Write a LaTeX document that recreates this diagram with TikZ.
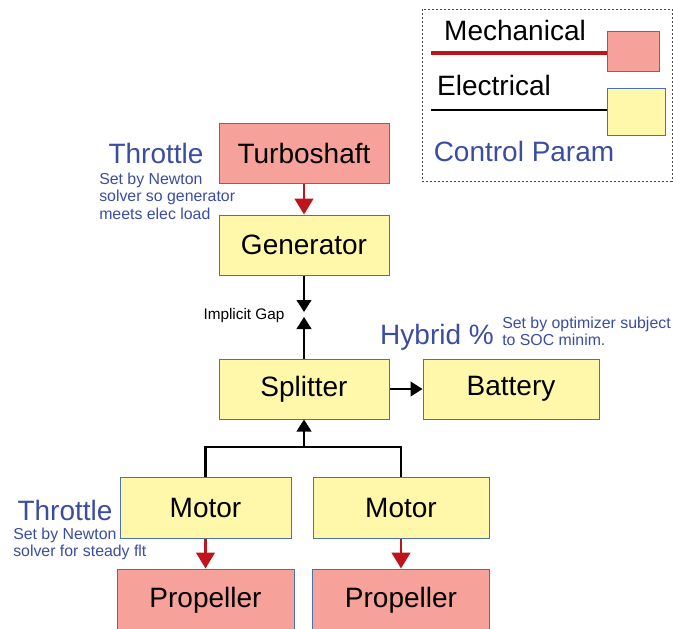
\documentclass[tikz,border=0pt]{standalone}
\usepackage{fontspec}
\setmainfont{Liberation Sans}
\usepackage{xcolor}
\usepackage{tikz}
\usetikzlibrary{arrows.meta,positioning}
\definecolor{pmred}{RGB}{246,161,153}
\definecolor{pmyellow}{RGB}{255,248,170}
\definecolor{pmedge}{RGB}{79,113,170}
\definecolor{pmline}{RGB}{192,20,28}
\definecolor{pmblue}{RGB}{59,76,163}
\newcommand{\pmbig}{\fontsize{21}{25}\selectfont}
\newcommand{\pmsmall}{\fontsize{11.9}{13.2}\selectfont}
\newcommand{\pmgap}{\fontsize{11.5}{12}\selectfont}

\begin{document}
\begin{tikzpicture}[
  x=0.75pt,y=-0.75pt,
  node distance=23.25pt and 24.75pt,
  block/.style={draw=pmedge,line width=0.75pt,minimum width=127.5pt,minimum height=45pt,
     inner sep=0pt,font=\pmbig},
  mech/.style={block,fill=pmred},
  elec/.style={block,fill=pmyellow},
  ctrl/.style={font=\pmbig,text=pmblue,inner sep=0pt},
  note/.style={font=\pmsmall,text=pmblue,align=left,inner sep=0pt},
  mflow/.style={-{Triangle[length=12pt,width=14pt]},line width=1.9pt,color=pmline},
  eflow/.style={-{Triangle[length=9pt,width=11pt]},line width=1.6pt},
  eline/.style={line width=1.6pt},
  legbox/.style={draw=black!70,line width=0.75pt,dash pattern=on 1.5pt off 1.5pt}
]
\useasboundingbox (0,0) rectangle (673,628);
% main chain
\node[mech] (turbo) at (304,153) {Turboshaft};
\node[elec,below=of turbo] (gen) {Generator};
\node[elec,below=62.25pt of gen] (split) {Splitter};
\node[elec,right=of split,minimum width=132pt] (batt) {Battery};
\node[elec,minimum width=128.25pt,minimum height=45.75pt] (motorL) at (205.5,507.5) {Motor};
\node[elec,minimum width=132pt,minimum height=45.75pt] (motorR) at (401,507.5) {Motor};
\node[mech,below=22.5pt of motorL,minimum width=132.75pt,minimum height=47.25pt] (propL) {Propeller};
\node[mech,below=22.5pt of motorR,minimum width=132.75pt,minimum height=47.25pt] (propR) {Propeller};
% control params
\node[ctrl] (thrTop) at (156,153) {Throttle};
\node[note,anchor=west] (thrTopNote) at (99,196) {Set by Newton\\solver so generator\\meets elec load};
\node[ctrl] (hybrid) at (437,337) {Hybrid \%};
\node[note,anchor=west] (hybNote) at (502,331.5) {Set by optimizer subject\\to SOC minim.};
\node[ctrl] (thrBot) at (65,510) {Throttle};
\node[note,anchor=west] (thrBotNote) at (13,544) {Set by Newton\\solver for steady flt};
\node[font=\pmgap,inner sep=0pt] (gapLbl) at (244,316) {Implicit Gap};
% connectors
\coordinate (gapTop) at (304,312);
\coordinate (gapBot) at (304,317);
\coordinate (fork) at (304,447);
\draw[mflow] (turbo) -- (gen);
\draw[eflow] (gen) -- (gapTop);
\draw[eflow] (split) -- (gapBot);
\draw[eflow] (split) -- (batt);
\draw[eline] (motorL.north) |- (fork) -| (motorR.north);
\draw[eflow] (fork) -- (fork |- split.south);
\draw[mflow] (motorL) -- (propL);
\draw[mflow] (motorR) -- (propR);
% legend
\draw[legbox] (422,9) rectangle (672,181);
\node[font=\pmbig,inner sep=0pt] (legMechTxt) at (515,30) {Mechanical};
\node[mech,minimum width=39pt,minimum height=30pt] (legMech) at (633,51) {};
\coordinate (legMechL) at (431,53);
\draw[line width=2.6pt,pmline] (legMechL) -- (legMechL -| legMech.west);
\node[font=\pmbig,inner sep=0pt] (legElecTxt) at (494,85) {Electrical};
\node[elec,minimum width=43.5pt,minimum height=35.25pt] (legElec) at (636,111.5) {};
\coordinate (legElecL) at (431,110);
\draw[line width=1.8pt] (legElecL) -- (legElecL -| legElec.west);
\node[ctrl] (legCtrl) at (524,151) {Control Param};
\end{tikzpicture}
\end{document}
